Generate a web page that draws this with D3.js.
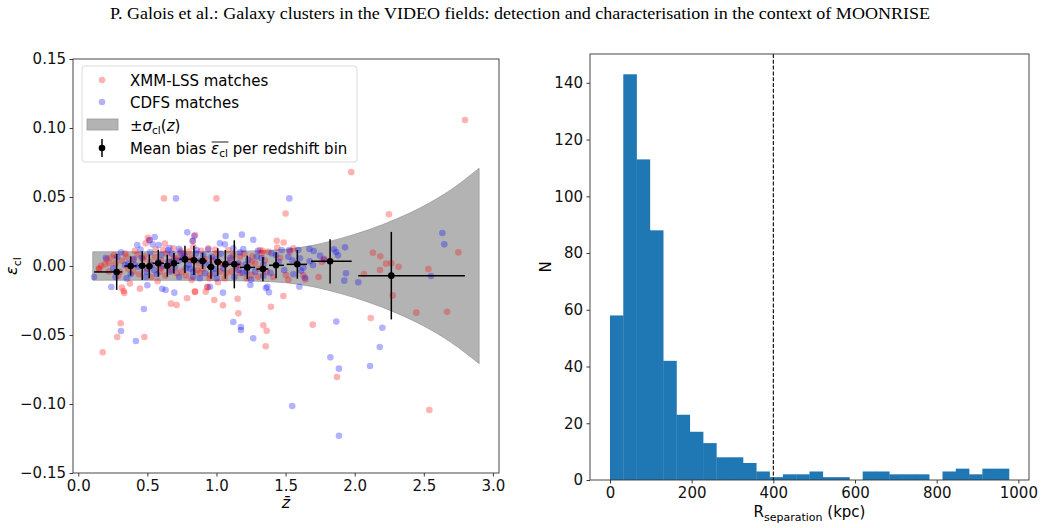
<!DOCTYPE html>
<html>
<head>
<meta charset="utf-8">
<script src="https://cdn.jsdelivr.net/npm/d3@7"></script>
<style>
  body { margin: 0; background: #fff; }
  svg { display: block; }
</style>
</head>
<body>
<div id="chart"></div>
<script>
// ---- left panel: scatter of matches (z, eps_cl) ----
const xmmZ = [0.620,1.000,1.500,0.504,2.798,1.975,2.248,1.436,1.486,2.750,1.778,1.763,1.643,1.739,2.132,2.185,2.227,2.265,2.318,2.183,2.067,2.533,2.275,2.446,2.668,1.696,2.116,1.872,1.484,1.394,1.339,1.363,1.356,1.158,1.153,1.047,0.984,1.011,0.936,0.844,0.787,0.712,0.671,0.574,0.478,0.446,0.374,0.333,0.316,0.307,0.282,0.177,0.152,0.205,2.540,1.334,
  0.150,0.166,0.193,0.241,0.328,0.488,0.517,0.627,0.615,0.688,0.799,0.832,0.350,0.314,0.224,0.398,0.470,0.519,0.555,0.603,0.695,0.748,0.808,0.302,0.398,0.591,0.712,
  0.845,0.828,0.941,1.001,1.086,1.098,1.170,1.254,1.315,1.327,1.375,1.440,1.532,1.556,1.628,1.503,1.363,1.302,1.254,1.170,1.110,1.025,0.953,0.881,0.820,0.845,0.933,0.922,
  0.270,0.430,0.660,0.760,0.870,0.900,0.970,1.050,1.140,1.200,0.580,0.630,0.530,1.060,1.280,
  0.22,0.26,0.29,0.34,0.36,0.41,0.44,0.48,0.50,0.56,0.60,0.64,0.67,0.72,0.74,0.78,0.82,0.86,0.89,0.92,0.95,0.99,1.02,1.07,1.12,1.16,1.22,1.26,1.31,1.35,1.41,1.46,1.52,1.58];
const xmmEps = [0.049,0.049,0.038,0.0205,0.1058,0.068,0.0375,0.0183,0.017,0.0099,0.0053,0.0029,-0.0097,-0.008,0.0096,0.007,0.0017,0.002,-0.0005,-0.0029,-0.0058,-0.0022,-0.0213,-0.0338,-0.0331,-0.0425,-0.0377,-0.0804,-0.0217,-0.0295,-0.043,-0.0469,-0.0582,-0.0343,-0.0237,-0.0285,-0.0246,-0.0118,-0.0155,-0.0186,-0.0234,-0.0283,-0.0273,-0.0111,-0.0514,-0.0164,-0.0126,-0.0196,-0.0157,-0.0415,-0.0514,-0.0625,-0.0024,0.0049,-0.1043,0.0111,
  -0.0017,0.0002,0.0012,0.0063,-0.0181,0.0164,0.0188,0.0162,0.0116,0.0128,0.0104,0.014,0.0067,0.0038,0.0024,0.0043,0.0049,0.0031,0.0067,-0.0017,0.0056,-0.0041,0.0043,-0.0041,-0.0041,-0.0041,-0.0053,
  0.0225,0.0183,0.0128,0.0092,0.0116,0.0043,0.0067,0.0031,0.0116,0.0092,0.0104,0.0133,0.0104,0.0128,-0.0065,-0.0065,-0.0041,-0.0077,-0.0065,-0.0053,-0.0041,-0.0041,-0.0065,-0.0053,-0.0101,-0.0186,-0.015,-0.0186,
  0.002,0.008,0.003,0.009,0.002,-0.002,0.004,0.001,-0.001,0.009,0.001,-0.007,-0.008,-0.009,0.002,
  -0.004,0.008,-0.007,0.009,-0.002,0.011,-0.006,0.007,-0.002,0.012,0.004,0.009,-0.003,0.006,0.011,-0.007,0.006,-0.003,0.011,0.005,-0.009,0.012,0.002,-0.005,0.008,0.001,-0.009,0.007,-0.002,0.004,-0.008,0.006,-0.010,0.002];

const cdfsZ = [0.707,1.527,0.553,0.789,0.839,1.066,1.184,1.266,0.427,0.514,2.634,2.648,1.672,1.703,1.850,1.865,1.879,1.930,1.749,1.778,1.698,1.674,1.628,1.611,1.640,1.937,1.925,2.026,2.552,1.867,2.200,2.181,2.111,1.824,1.886,1.380,1.358,1.266,1.245,1.177,1.177,1.122,1.047,0.695,0.632,0.607,0.475,0.417,0.500,0.239,0.309,0.114,1.194,1.527,1.600,1.548,1.886,
  0.538,0.582,0.649,0.678,0.729,0.741,0.828,0.362,0.282,0.253,0.338,0.410,0.434,0.531,0.579,0.651,0.736,0.779,0.832,0.495,0.664,0.760,
  0.857,0.904,0.965,1.025,1.061,1.122,1.158,1.230,1.291,1.327,1.399,1.472,1.520,1.592,1.604,1.556,1.339,1.279,1.218,1.158,1.049,0.989,0.917,0.832,0.953,1.368,
  0.460,0.600,0.700,0.880,0.950,1.000,1.100,1.190,0.550,0.800,0.380,1.450,1.000,
  0.20,0.27,0.31,0.35,0.40,0.45,0.49,0.52,0.57,0.61,0.66,0.69,0.73,0.77,0.81,0.85,0.88,0.91,0.94,0.98,1.03,1.08,1.13,1.17,1.21,1.25,1.30,1.34,1.39,1.43,1.49,1.55];
const cdfsEps = [0.049,0.049,0.021,0.0244,0.0217,0.0217,0.0227,0.019,0.0152,0.0186,0.0239,0.0157,0.0123,0.0109,0.0121,0.0101,0.0077,0.0135,0.0075,0.0045,0.0007,0.0034,-0.0012,-0.0034,-0.0085,-0.0053,-0.0106,-0.0118,-0.0072,-0.0403,-0.0447,-0.0587,-0.0725,-0.0662,-0.0744,-0.0191,-0.016,-0.0524,-0.0138,-0.0442,-0.0464,-0.0406,-0.0193,-0.0193,-0.0174,-0.0165,-0.0312,-0.0543,-0.014,-0.0152,-0.0471,-0.008,0.0123,0.0116,-0.015,-0.1014,-0.123,
  0.0157,0.0152,0.0114,0.0089,0.0125,0.0096,0.0181,0.002,0.0067,-0.0017,0.0007,0.0007,-0.0005,0.0007,0.0031,0.0031,0.0043,-0.0017,-0.0041,-0.0041,-0.0041,0.0056,
  0.0116,0.008,0.0067,0.0164,0.0157,0.0128,0.002,0.0043,0.0067,0.0056,0.0092,0.0116,0.0067,0.0116,0.0056,-0.006,-0.007,-0.0041,-0.0041,-0.0029,-0.0017,-0.0053,-0.0053,-0.0077,-0.015,-0.015,
  0.006,0.008,-0.001,0.004,0.001,0.005,0.006,-0.005,-0.003,0.001,-0.006,0.003,-0.009,
  0.006,-0.008,0.010,-0.009,0.005,0.012,-0.008,0.010,-0.006,0.000,0.013,0.004,-0.008,0.007,-0.002,0.009,-0.009,0.002,0.012,-0.002,0.009,0.002,-0.008,0.010,0.001,-0.010,0.011,0.001,-0.005,0.008,-0.003,0.004];

// sigma_cl(z) band, read at a few redshifts
const bandZ = [0.105, 0.4, 0.8, 1.1, 1.3, 1.5, 1.7, 1.9, 2.1, 2.3, 2.5, 2.7, 2.9];
const bandSigma = [0.0103, 0.0103, 0.0104, 0.0106, 0.0110, 0.0121, 0.0150, 0.0200, 0.0262, 0.0340, 0.0435, 0.0555, 0.0708];

// mean bias per redshift bin
const binZ = [0.278,0.379,0.463,0.514,0.579,0.644,0.692,0.772,0.837,0.900,0.960,1.009,1.064,1.129,1.223,1.336,1.431,1.585,1.822,2.265];
const binBias = [-0.0043,0.0,0.0002,-0.0002,0.002,0.0002,0.002,0.0048,0.0041,0.0036,-0.0007,0.0029,0.0012,0.0012,-0.001,-0.0022,0.0005,0.0012,0.0034,-0.007];
const binErr = [0.013,0.0070,0.0104,0.0086,0.0097,0.008,0.0075,0.0099,0.0106,0.0058,0.0085,0.010,0.0104,0.0174,0.0085,0.0088,0.0094,0.0104,0.016,0.0317];
const binLo = [0.115,0.333,0.434,0.495,0.538,0.620,0.676,0.731,0.820,0.870,0.930,0.985,1.040,1.090,1.170,1.290,1.380,1.508,1.684,2.026];
const binHi = [0.318,0.422,0.495,0.538,0.620,0.676,0.731,0.820,0.870,0.930,0.985,1.040,1.090,1.170,1.280,1.375,1.488,1.655,1.978,2.798];

// ---- right panel: histogram of separations ----
const histEdges = [0,32.6,65.1,97.7,130.3,162.8,195.4,228.0,260.5,293.1,325.7,358.2,390.8,423.4,455.9,488.5,521.1,553.6,586.2,618.8,651.3,683.9,716.5,749.0,781.6,814.2,846.7,879.3,911.9,944.4,977.0];
const histCounts = [58,143,113,88,42,23,17,13,8,8,6,3,1,2,2,3,1,1,0,3,3,2,2,2,0,3,4,2,4,4];
const rCut = 400;

const xTicksL = [0, 0.5, 1.0, 1.5, 2.0, 2.5, 3.0];
const yTicksL = [-0.15, -0.10, -0.05, 0.00, 0.05, 0.10, 0.15];
const xTicksR = [0, 200, 400, 600, 800, 1000];
const yTicksR = [0, 20, 40, 60, 80, 100, 120, 140];

const title = "P. Galois et al.: Galaxy clusters in the VIDEO fields: detection and characterisation in the context of MOONRISE";

const W = 1044, H = 528;
const svg = d3.select("#chart").append("svg")
    .attr("width", W).attr("height", H)
    .style("font-family", "'DejaVu Sans', sans-serif");

svg.append("text")
    .attr("x", 520).attr("y", 19)
    .attr("text-anchor", "middle")
    .attr("textLength", 820).attr("lengthAdjust", "spacingAndGlyphs")
    .style("font-family", "'Liberation Serif', 'Times New Roman', serif")
    .style("font-size", "16px")
    .text(title);

function styleAxis(g) {
    g.select(".domain").remove();
    g.selectAll(".tick line").attr("stroke", "#222").attr("stroke-width", 0.9);
    g.selectAll(".tick text").style("font-size", "15px").attr("fill", "#111")
        .style("font-family", "'DejaVu Sans', sans-serif");
}

// ================= left panel =================
const L = {left: 73, right: 499, top: 59, bottom: 473};
const xL = d3.scaleLinear().domain([-0.038, 3.044]).range([L.left, L.right]);
const yL = d3.scaleLinear().domain([-0.15, 0.15]).range([L.bottom, L.top]);

svg.append("clipPath").attr("id", "clipL")
  .append("rect").attr("x", L.left).attr("y", L.top)
    .attr("width", L.right - L.left).attr("height", L.bottom - L.top);

const plotL = svg.append("g").attr("clip-path", "url(#clipL)");

const band = bandZ.map((z, i) => ({z: z, s: bandSigma[i]}));
plotL.append("path")
    .datum(band)
    .attr("d", d3.area()
        .x(d => xL(d.z))
        .y0(d => yL(-d.s))
        .y1(d => yL(d.s))
        .curve(d3.curveMonotoneX))
    .attr("fill", "#b3b3b3")
    .attr("stroke", "#9a9a9a")
    .attr("stroke-width", 0.8);

plotL.selectAll("circle.xmm")
    .data(xmmZ.map((z, i) => [z, xmmEps[i]]))
    .enter().append("circle")
        .attr("class", "xmm")
        .attr("cx", d => xL(d[0]))
        .attr("cy", d => yL(d[1]))
        .attr("r", 3.3)
        .attr("fill", "red")
        .attr("fill-opacity", 0.3);

plotL.selectAll("circle.cdfs")
    .data(cdfsZ.map((z, i) => [z, cdfsEps[i]]))
    .enter().append("circle")
        .attr("class", "cdfs")
        .attr("cx", d => xL(d[0]))
        .attr("cy", d => yL(d[1]))
        .attr("r", 3.3)
        .attr("fill", "blue")
        .attr("fill-opacity", 0.3);

const bins = binZ.map((z, i) => ({z: z, m: binBias[i], e: binErr[i], lo: binLo[i], hi: binHi[i]}));
const eb = plotL.selectAll("g.eb").data(bins).enter().append("g").attr("class", "eb");
eb.append("line")
    .attr("x1", d => xL(d.lo)).attr("x2", d => xL(d.hi))
    .attr("y1", d => yL(d.m)).attr("y2", d => yL(d.m))
    .attr("stroke", "black").attr("stroke-width", 1.5);
eb.append("line")
    .attr("x1", d => xL(d.z)).attr("x2", d => xL(d.z))
    .attr("y1", d => yL(d.m - d.e)).attr("y2", d => yL(d.m + d.e))
    .attr("stroke", "black").attr("stroke-width", 1.5);
eb.append("circle")
    .attr("cx", d => xL(d.z)).attr("cy", d => yL(d.m))
    .attr("r", 3.3).attr("fill", "black");

svg.append("g")
    .attr("transform", `translate(0,${L.bottom})`)
    .call(d3.axisBottom(xL).tickValues(xTicksL).tickFormat(d3.format(".1f")).tickSize(3.5).tickPadding(3.5))
    .call(styleAxis);
svg.append("g")
    .attr("transform", `translate(${L.left},0)`)
    .call(d3.axisLeft(yL).tickValues(yTicksL).tickFormat(d3.format(".2f")).tickSize(3.5).tickPadding(3.5))
    .call(styleAxis);

svg.append("rect")
    .attr("x", L.left).attr("y", L.top)
    .attr("width", L.right - L.left).attr("height", L.bottom - L.top)
    .attr("fill", "none").attr("stroke", "#333").attr("stroke-width", 0.9);

// axis labels
const xlabL = svg.append("text").attr("x", (L.left + L.right) / 2).attr("y", 508)
    .attr("text-anchor", "middle").style("font-size", "16px");
xlabL.append("tspan").style("font-style", "italic").text("z\u0304");

const ylabL = svg.append("text")
    .attr("transform", `translate(17,${(L.top + L.bottom) / 2}) rotate(-90)`)
    .attr("text-anchor", "middle").style("font-size", "16px");
ylabL.append("tspan").style("font-style", "italic").text("\u03b5");
ylabL.append("tspan").attr("dy", 4).style("font-size", "11px").text("cl");

// legend
const leg = svg.append("g");
leg.append("rect")
    .attr("x", 82).attr("y", 66).attr("width", 275).attr("height", 96).attr("rx", 3)
    .attr("fill", "white").attr("fill-opacity", 0.8)
    .attr("stroke", "#d6d6d6").attr("stroke-width", 0.9);
leg.append("circle").attr("cx", 102).attr("cy", 80).attr("r", 3.3).attr("fill", "red").attr("fill-opacity", 0.3);
leg.append("circle").attr("cx", 102).attr("cy", 102).attr("r", 3.3).attr("fill", "blue").attr("fill-opacity", 0.3);
leg.append("rect").attr("x", 87).attr("y", 119).attr("width", 31).attr("height", 11)
    .attr("fill", "#b3b3b3").attr("stroke", "#9a9a9a").attr("stroke-width", 0.8);
leg.append("line").attr("x1", 102).attr("x2", 102).attr("y1", 139).attr("y2", 157)
    .attr("stroke", "black").attr("stroke-width", 1.5);
leg.append("circle").attr("cx", 102).attr("cy", 148).attr("r", 3.3).attr("fill", "black");

const legText = (y) => leg.append("text").attr("x", 130).attr("y", y + 5.5).style("font-size", "15px");
legText(80).text("XMM-LSS matches");
legText(102).text("CDFS matches");
const t3 = legText(125);
t3.append("tspan").text("\u00b1");
t3.append("tspan").style("font-style", "italic").text("\u03c3");
t3.append("tspan").attr("dy", 3).style("font-size", "10.5px").text("cl");
t3.append("tspan").attr("dy", -3).text("(");
t3.append("tspan").style("font-style", "italic").text("z");
t3.append("tspan").text(")");
const t4 = legText(148);
t4.append("tspan").text("Mean bias ");
t4.append("tspan").style("font-style", "italic").text("\u03b5");
t4.append("tspan").attr("dy", 3).style("font-size", "10.5px").text("cl");
t4.append("tspan").attr("dy", -3).text(" per redshift bin");
// one overline spanning epsilon_cl
const t4n = t4.node();
const olX = 130 + t4n.getSubStringLength(0, 10);
const olW = t4n.getSubStringLength(10, 3);
leg.append("line")
    .attr("x1", olX + 0.5).attr("x2", olX + olW + 0.5)
    .attr("y1", 142).attr("y2", 142)
    .attr("stroke", "black").attr("stroke-width", 0.9);

// ================= right panel =================
const R = {left: 590, right: 1029, top: 54, bottom: 480};
const xR = d3.scaleLinear().domain([-48.9, 1026]).range([R.left, R.right]);
const yR = d3.scaleLinear().domain([0, 150.15]).range([R.bottom, R.top]);

const hist = histCounts.map((c, i) => ({x0: histEdges[i], x1: histEdges[i + 1], n: c}));
svg.append("g").selectAll("rect")
    .data(hist)
    .enter().append("rect")
        .attr("x", d => xR(d.x0))
        .attr("y", d => yR(d.n))
        .attr("width", d => xR(d.x1) - xR(d.x0) + 0.3)
        .attr("height", d => yR(0) - yR(d.n))
        .attr("fill", "#1f77b4");

svg.append("line")
    .attr("x1", xR(rCut)).attr("x2", xR(rCut))
    .attr("y1", R.top).attr("y2", R.bottom)
    .attr("stroke", "black").attr("stroke-width", 1.1)
    .attr("stroke-dasharray", "4,1.8");

svg.append("g")
    .attr("transform", `translate(0,${R.bottom})`)
    .call(d3.axisBottom(xR).tickValues(xTicksR).tickFormat(d3.format("d")).tickSize(3.5).tickPadding(3.5))
    .call(styleAxis);
svg.append("g")
    .attr("transform", `translate(${R.left},0)`)
    .call(d3.axisLeft(yR).tickValues(yTicksR).tickFormat(d3.format("d")).tickSize(3.5).tickPadding(3.5))
    .call(styleAxis);

svg.append("rect")
    .attr("x", R.left).attr("y", R.top)
    .attr("width", R.right - R.left).attr("height", R.bottom - R.top)
    .attr("fill", "none").attr("stroke", "#333").attr("stroke-width", 0.9);

const xlabR = svg.append("text").attr("x", (R.left + R.right) / 2).attr("y", 517)
    .attr("text-anchor", "middle").style("font-size", "15px");
xlabR.append("tspan").text("R");
xlabR.append("tspan").attr("dy", 4).style("font-size", "11px").text("separation");
xlabR.append("tspan").attr("dy", -4).text(" (kpc)");

svg.append("text")
    .attr("transform", `translate(551,${(R.top + R.bottom) / 2}) rotate(-90)`)
    .attr("text-anchor", "middle").style("font-size", "15px")
    .text("N");
</script>
</body>
</html>
